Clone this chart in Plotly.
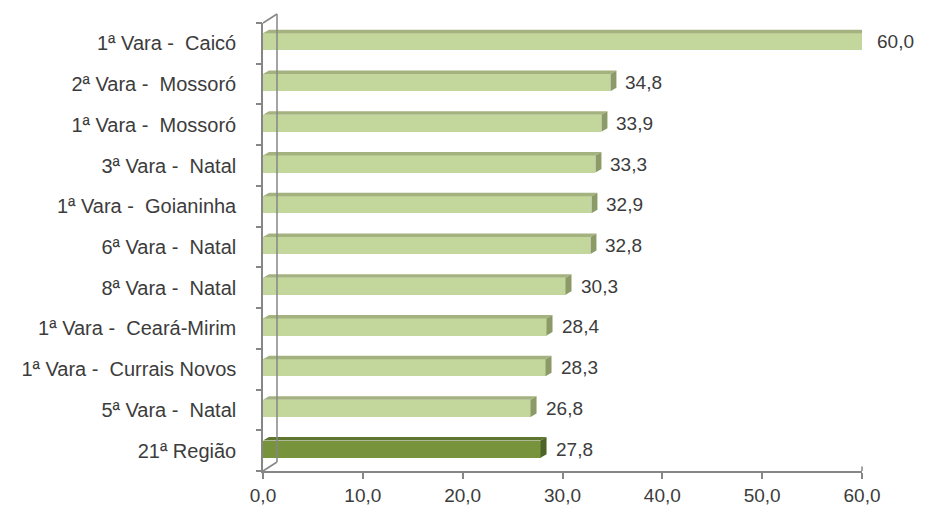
import plotly.graph_objects as go

SP = "\u00a0"
categories = [
    f"1ª Vara - {SP}Caicó",
    f"2ª Vara - {SP}Mossoró",
    f"1ª Vara - {SP}Mossoró",
    f"3ª Vara - {SP}Natal",
    f"1ª Vara - {SP}Goianinha",
    f"6ª Vara - {SP}Natal",
    f"8ª Vara - {SP}Natal",
    f"1ª Vara - {SP}Ceará-Mirim",
    f"1ª Vara - {SP}Currais Novos",
    f"5ª Vara - {SP}Natal",
    "21ª Região",
]
values = [60.0, 34.8, 33.9, 33.3, 32.9, 32.8, 30.3, 28.4, 28.3, 26.8, 27.8]
x_ticks = [0, 10, 20, 30, 40, 50, 60]

LIGHT = "#c3d69b"
LIGHT_TOP = "#a3b27f"
LIGHT_SIDE = "#8c9a67"
DARK = "#77933c"
DARK_TOP = "#5e7630"
DARK_SIDE = "#4e6327"
AXIS = "#868686"
TEXT = "#3c3c3c"
FONT = "Liberation Sans, Arial, sans-serif"
FS = 19
FS_CAT = 20

n = len(categories)
ypos = [n - 1 - i for i in range(n)]
colors = [DARK if c == "21ª Região" else LIGHT for c in categories]
tops = [DARK_TOP if c == "21ª Região" else LIGHT_TOP for c in categories]
sides = [DARK_SIDE if c == "21ª Região" else LIGHT_SIDE for c in categories]

# the page adds an 8px body margin, so margins are set 8px smaller on left/top
W, H = 925, 519
L, R, T, B = 255, 71, 15, 56
px_x = (W - L - R) / 60.0          # pixels per x unit
px_y = (H - T - B) / n             # pixels per category
bar_w = 0.42
dx = 6 / px_x                      # bar depth in data units
dy = 3.5 / px_y
lift = 1.5 / px_y                  # bars sit a little behind the front plane

fig = go.Figure()
fig.add_trace(
    go.Bar(
        x=values,
        y=ypos,
        orientation="h",
        width=bar_w,
        marker={"color": colors, "line": {"width": 0}},
        hoverinfo="x+text",
        hovertext=categories,
        showlegend=False,
    )
)

# 3D faces of each bar (top and right side)
shapes = []
for y, v, ct, cs in zip(ypos, values, tops, sides):
    yt = y + bar_w / 2
    yb = y - bar_w / 2
    shapes.append(dict(
        type="path", xref="x", yref="y", line={"width": 0}, fillcolor=ct,
        path=f"M0,{yt} L{v},{yt} L{v + dx},{yt + dy} L{dx},{yt + dy} Z",
    ))
    shapes.append(dict(
        type="path", xref="x", yref="y", line={"width": 0}, fillcolor=cs,
        path=f"M{v},{yb} L{v + dx},{yb + dy} L{v + dx},{yt + dy} L{v},{yt} Z",
    ))

# back wall / floor lines
wx = 14 / (W - L - R)
wy = 9 / (H - T - B)
wall = dict(type="line", xref="paper", yref="paper", line={"color": AXIS, "width": 1.5})
shapes += [
    dict(wall, x0=wx, x1=wx, y0=wy, y1=1 + wy),
    dict(wall, x0=0, x1=wx, y0=1, y1=1 + wy),
    dict(wall, x0=0, x1=wx, y0=0, y1=wy),
    dict(wall, x0=1, x1=1, y0=0, y1=wy * 0.5),
]

for y, v in zip(ypos, values):
    fig.add_annotation(
        x=v, y=y, xref="x", yref="y",
        text=f"{v:.1f}".replace(".", ","),
        showarrow=False, xanchor="left", xshift=13, yshift=0,
        font={"size": FS, "color": TEXT, "family": FONT},
    )

fig.update_layout(
    width=W,
    height=H,
    margin={"l": L, "r": R, "t": T, "b": B},
    paper_bgcolor="white",
    plot_bgcolor="white",
    separators=",.",
    font={"family": FONT, "size": FS, "color": TEXT},
    shapes=shapes,
    xaxis={
        "range": [0, 60],
        "tickvals": x_ticks,
        "tickformat": ".1f",
        "showgrid": False,
        "zeroline": False,
        "showline": True,
        "linecolor": AXIS,
        "linewidth": 1.5,
        "ticks": "outside",
        "ticklen": 6,
        "tickcolor": AXIS,
        "tickwidth": 1.5,
        "tickfont": {"size": FS, "color": TEXT},
    },
    # bars
    yaxis={
        "range": [-0.5 - lift, n - 0.5 - lift],
        "showticklabels": False,
        "ticks": "",
        "showgrid": False,
        "zeroline": False,
        "showline": False,
    },
    # category labels at the front plane
    yaxis2={
        "range": [-0.5, n - 0.5],
        "overlaying": "y",
        "side": "left",
        "tickvals": ypos,
        "ticktext": categories,
        "ticks": "",
        "ticklabelstandoff": 21,
        "tickfont": {"size": FS_CAT, "color": TEXT},
        "showgrid": False,
        "zeroline": False,
        "showline": True,
        "linecolor": AXIS,
        "linewidth": 1.5,
    },
    # boundary tick marks
    yaxis3={
        "range": [-0.5, n - 0.5],
        "overlaying": "y",
        "side": "left",
        "tickvals": [i - 0.5 for i in range(n + 1)],
        "showticklabels": False,
        "ticks": "outside",
        "ticklen": 6,
        "tickcolor": AXIS,
        "tickwidth": 1.5,
        "showgrid": False,
        "zeroline": False,
    },
    bargap=0,
)
# empty traces to activate the label and tick axes
fig.add_trace(go.Scatter(x=[None], y=[None], yaxis="y2", showlegend=False, hoverinfo="skip"))
fig.add_trace(go.Scatter(x=[None], y=[None], yaxis="y3", showlegend=False, hoverinfo="skip"))

fig.write_html("out.html")
